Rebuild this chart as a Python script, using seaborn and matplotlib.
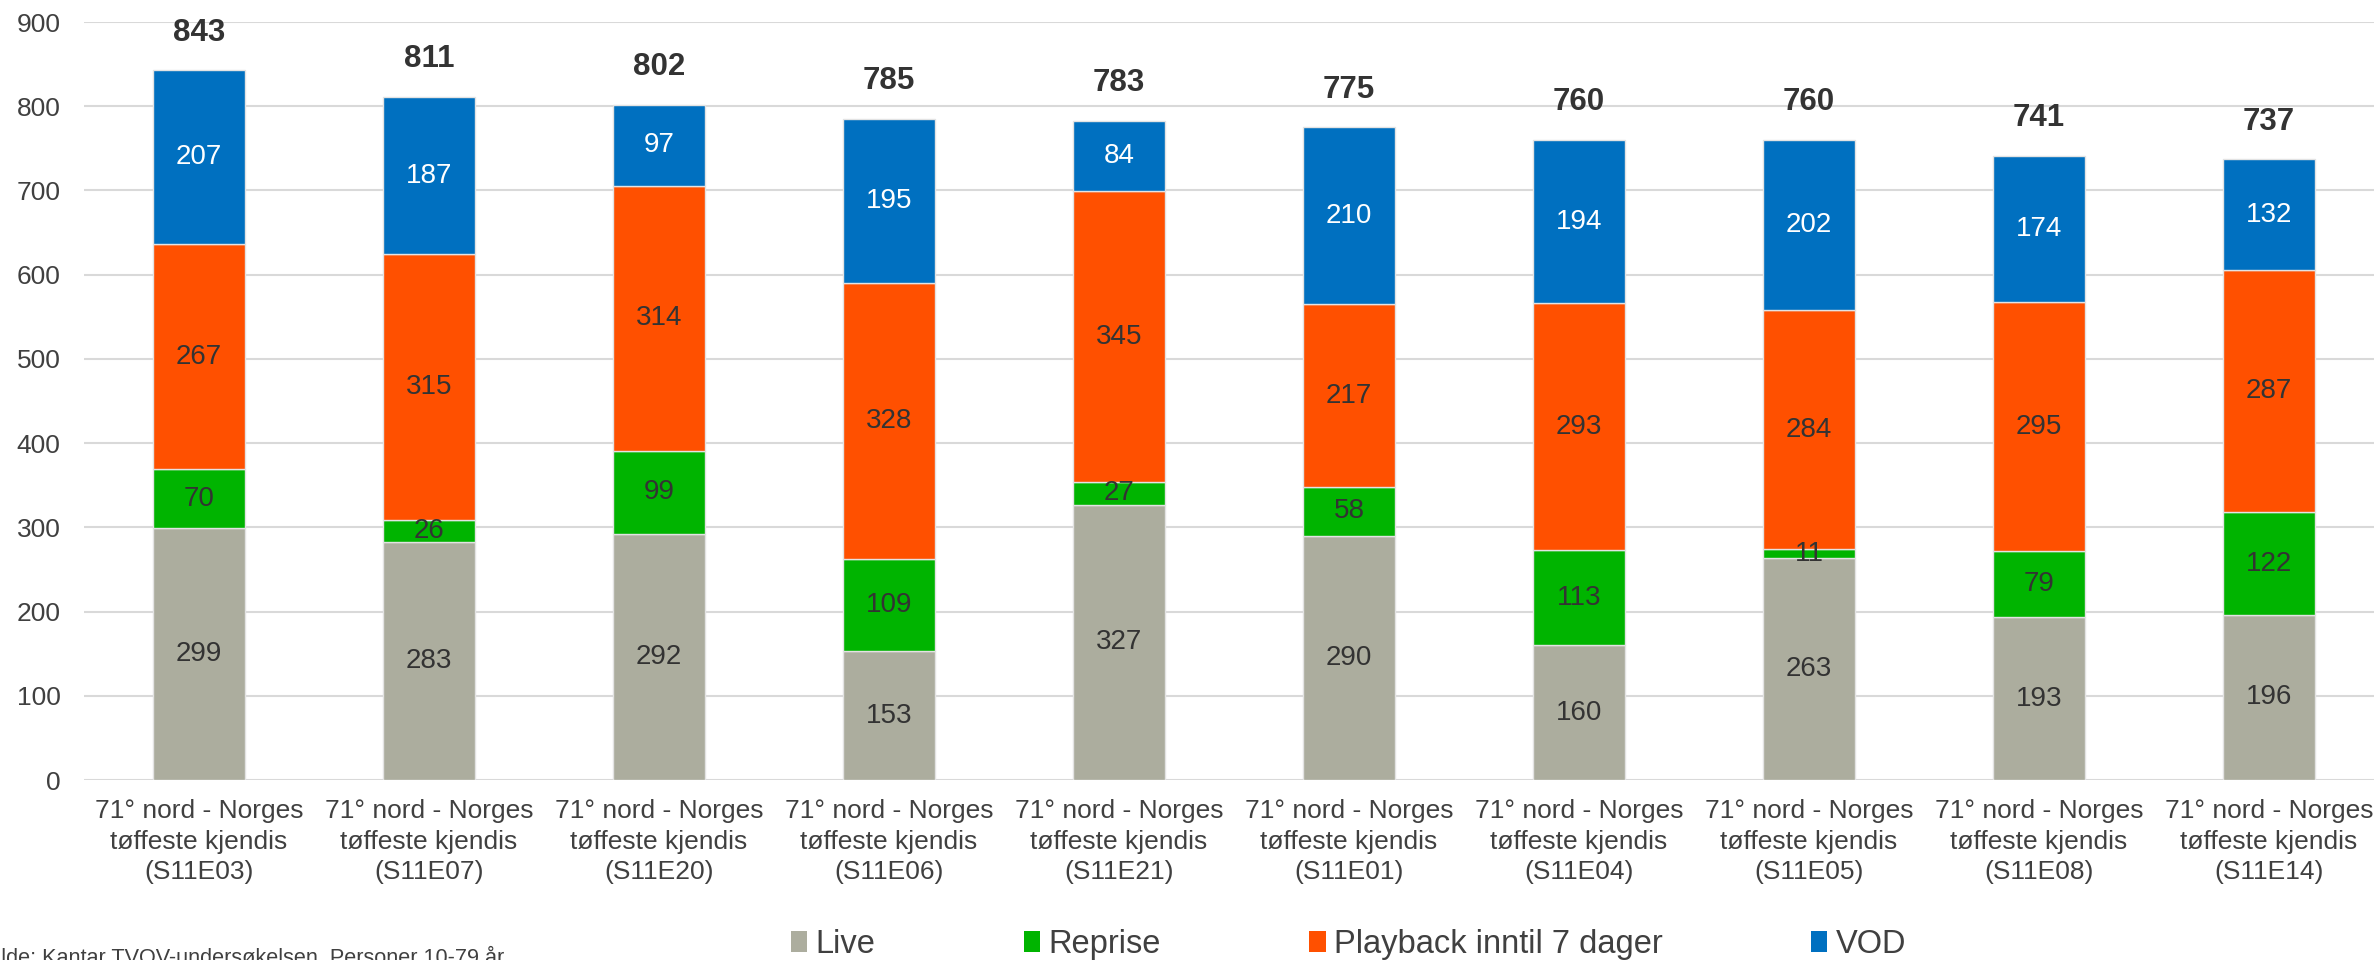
import numpy as np
import pandas as pd
import matplotlib
matplotlib.use("Agg")
import matplotlib.pyplot as plt
from matplotlib.patches import Patch
import seaborn as sns

episodes = ["S11E03", "S11E07", "S11E20", "S11E06", "S11E21",
            "S11E01", "S11E04", "S11E05", "S11E08", "S11E14"]
categories = ["71° nord - Norges\ntøffeste kjendis\n(%s)" % e for e in episodes]

live = [299, 283, 292, 153, 327, 290, 160, 263, 193, 196]
reprise = [70, 26, 99, 109, 27, 58, 113, 11, 79, 122]
playback = [267, 315, 314, 328, 345, 217, 293, 284, 295, 287]
vod = [207, 187, 97, 195, 84, 210, 194, 202, 174, 132]

series_names = ["Live", "Reprise", "Playback inntil 7 dager", "VOD"]
series_colors = ["#ACAD9E", "#00B400", "#FF5000", "#0070C0"]
label_colors = ["#333333", "#333333", "#333333", "white"]
source_text = "Kilde: Kantar TVOV-undersøkelsen. Personer 10-79 år"

sns.set_style("white")
plt.rcParams["font.family"] = ["Liberation Sans", "DejaVu Sans"]

fig = plt.figure(figsize=(23.74, 9.6), dpi=100)
ax = fig.add_axes([84 / 2374, 1 - 780 / 960, 2300 / 2374, 758 / 960])

bottom = np.zeros(len(categories))
for name, vals, col, lc in zip(series_names, [live, reprise, playback, vod],
                               series_colors, label_colors):
    sns.barplot(x=categories, y=vals, bottom=bottom, color=col, saturation=1,
                width=0.4, edgecolor="#E3E3E3", linewidth=1, ax=ax)
    for i, v in enumerate(vals):
        ax.text(i, bottom[i] + v / 2, str(v), ha="center", va="center",
                fontsize=20, color=lc)
    bottom += np.array(vals)

# totals above bars
for i, tot in enumerate(bottom):
    ax.annotate(str(int(tot)), (i, tot), xytext=(0, 27), textcoords="offset points",
                ha="center", va="center", fontsize=22.5, fontweight="bold",
                color="#333333")

ax.set_xlim(-0.5, len(categories) - 0.5)
ax.set_ylim(0, 900)
ax.set_yticks(range(0, 901, 100))
ax.yaxis.grid(True, color="#D9D9D9", linewidth=1.5)
ax.set_axisbelow(True)
for s in ax.spines.values():
    s.set_visible(False)
ax.tick_params(axis="y", length=0, pad=17, labelsize=19, labelcolor="#404040")
ax.tick_params(axis="x", length=0, pad=14, labelsize=19, labelcolor="#404040")
for lbl in ax.get_xticklabels():
    lbl.set_linespacing(1.32)
ax.set_xlabel("")
ax.set_ylabel("")

handles = [Patch(facecolor=c, edgecolor="none") for c in series_colors]
fig.legend(handles, series_names, loc="center", bbox_to_anchor=(0.568, 0.016),
           ncol=4, frameon=False, fontsize=23.5, handlelength=0.5, handleheight=0.6,
           handletextpad=0.25, columnspacing=4.55, labelcolor="#404040")

fig.text(504 / 2374, -0.004, source_text, ha="right", va="baseline",
         fontsize=15.6, color="#404040")

fig.savefig("out.png", dpi=100)
